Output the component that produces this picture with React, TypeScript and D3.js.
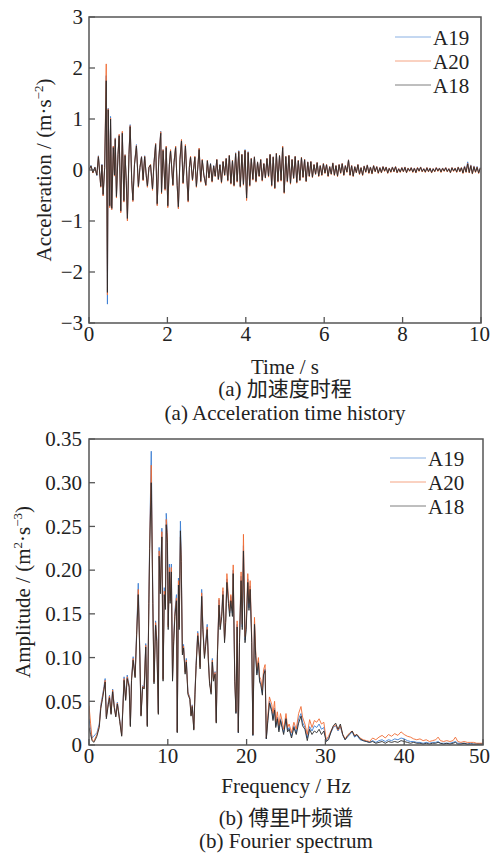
import React from 'react';
import * as d3 from 'd3';

// ---------- (a) Acceleration time history ----------
const accTimeEarly = [
  0.00,0.05,0.10,0.15,0.20,0.24,0.30,0.33,0.36,0.40,
  0.44,0.47,0.49,0.53,0.55,0.58,0.62,0.65,0.67,0.70,
  0.74,0.77,0.81,0.85,0.89,0.92,0.95,0.98,1.02,1.05,
  1.09,1.12,1.16,1.21,1.26,1.30,1.34,1.38,1.42,1.46,
  1.49,1.53,1.57,1.62,1.66,1.70,1.74,1.78,1.83,1.85,
  1.89,1.94,1.97,2.01,2.05,2.08,2.14,2.17,2.21,2.25,
  2.28,2.32,2.36,2.40,2.43,2.46,2.50,2.53,2.56,2.59,
  2.64,2.70,2.74,2.78,2.81,2.85,2.89,2.93,2.98,
];
// sampling grid of the later record (3.02 s .. 9.98 s, 0.04 s step)
const accTimeLate = d3.range(175).map((i) => 3.02 + i * 0.04);

const accA18 = [
  0.00,0.08,-0.05,0.05,-0.10,0.26,-0.32,0.10,-0.48,0.05,
  1.75,-2.40,1.18,-0.70,1.00,-0.75,0.44,-0.10,0.60,-0.52,
  0.30,0.67,-0.80,0.72,-0.60,0.28,-0.20,-0.95,0.30,0.85,
  -0.20,-0.59,0.10,0.47,-0.32,0.05,0.25,-0.19,0.26,-0.10,
  -0.31,0.05,0.10,-0.37,0.15,0.50,-0.66,0.20,0.72,-0.44,
  0.38,-0.37,0.44,-0.70,0.10,0.37,-0.29,0.15,0.44,-0.30,
  -0.72,0.20,0.57,-0.25,0.10,0.47,-0.20,-0.60,0.05,0.25,
  -0.19,0.25,-0.32,0.10,0.40,-0.22,0.19,-0.10,-0.29,
  0.18,-0.15,0.12,-0.22,0.08,-0.12,0.20,-0.18,0.10,-0.24,
  0.16,-0.10,0.22,-0.20,0.28,-0.26,0.18,-0.30,0.32,-0.22,
  0.36,-0.32,0.30,-0.28,0.38,-0.55,0.34,-0.30,0.22,-0.18,
  0.25,-0.22,0.15,-0.12,0.20,-0.20,0.12,-0.15,0.22,-0.12,
  0.30,-0.30,0.25,-0.35,0.32,-0.22,0.28,-0.20,0.44,-0.44,
  0.26,-0.22,0.28,-0.26,0.20,-0.16,0.26,-0.24,0.18,-0.20,
  0.24,-0.14,0.20,-0.22,0.15,-0.12,0.16,-0.14,0.10,-0.08,
  0.14,-0.12,0.08,-0.10,0.12,-0.06,0.10,-0.12,0.06,-0.08,
  0.13,-0.10,0.08,-0.12,0.10,-0.06,0.12,-0.10,0.08,-0.04,
  0.19,-0.10,0.08,-0.12,0.06,-0.05,0.10,-0.08,0.04,-0.10,
  0.07,-0.04,0.09,-0.06,0.05,-0.07,0.08,-0.03,0.06,-0.06,
  0.04,-0.05,0.06,-0.02,0.05,-0.06,0.03,-0.04,0.05,-0.03,
  0.06,-0.05,0.02,-0.04,0.04,-0.03,0.05,-0.05,0.03,-0.02,
  0.04,-0.04,0.03,-0.05,0.04,-0.02,0.05,-0.03,0.02,-0.04,
  0.04,-0.03,0.03,-0.05,0.02,-0.03,0.04,-0.02,0.03,-0.04,
  0.03,-0.02,0.04,-0.03,0.02,-0.05,0.04,-0.02,0.03,-0.04,
  0.05,-0.03,0.04,-0.06,0.06,-0.04,0.12,-0.05,0.08,-0.07,
  0.06,-0.04,0.05,-0.06,0.03,
];
const accA19 = [
  0.00,0.09,-0.05,0.06,-0.11,0.28,-0.33,0.11,-0.50,0.05,
  1.85,-2.63,1.21,-0.72,1.05,-0.77,0.46,-0.10,0.63,-0.53,
  0.31,0.69,-0.82,0.74,-0.62,0.30,-0.21,-0.97,0.31,0.89,
  -0.21,-0.61,0.11,0.50,-0.33,0.05,0.27,-0.20,0.28,-0.11,
  -0.33,0.05,0.10,-0.38,0.16,0.52,-0.69,0.21,0.76,-0.46,
  0.40,-0.39,0.46,-0.72,0.11,0.39,-0.30,0.16,0.46,-0.31,
  -0.75,0.21,0.59,-0.26,0.11,0.49,-0.21,-0.62,0.05,0.26,
  -0.20,0.26,-0.33,0.10,0.42,-0.23,0.20,-0.10,-0.30,
  0.19,-0.15,0.13,-0.23,0.09,-0.12,0.21,-0.19,0.11,-0.25,
  0.17,-0.10,0.23,-0.21,0.29,-0.27,0.19,-0.31,0.34,-0.23,
  0.38,-0.33,0.31,-0.29,0.40,-0.56,0.36,-0.31,0.23,-0.19,
  0.26,-0.23,0.16,-0.12,0.21,-0.21,0.13,-0.15,0.23,-0.13,
  0.31,-0.31,0.26,-0.36,0.33,-0.23,0.29,-0.21,0.46,-0.45,
  0.27,-0.23,0.29,-0.27,0.21,-0.16,0.27,-0.25,0.19,-0.20,
  0.25,-0.14,0.21,-0.22,0.16,-0.12,0.17,-0.14,0.11,-0.08,
  0.15,-0.11,0.09,-0.09,0.13,-0.05,0.11,-0.11,0.07,-0.07,
  0.14,-0.09,0.09,-0.11,0.11,-0.05,0.13,-0.09,0.09,-0.03,
  0.20,-0.09,0.09,-0.11,0.07,-0.04,0.11,-0.07,0.05,-0.09,
  0.08,-0.03,0.10,-0.05,0.06,-0.06,0.09,-0.02,0.07,-0.05,
  0.05,-0.04,0.07,-0.01,0.06,-0.05,0.04,-0.03,0.06,-0.02,
  0.07,-0.04,0.03,-0.03,0.05,-0.02,0.06,-0.04,0.04,-0.01,
  0.05,-0.03,0.04,-0.04,0.05,-0.01,0.06,-0.02,0.03,-0.03,
  0.05,-0.02,0.04,-0.04,0.03,-0.02,0.05,-0.01,0.04,-0.03,
  0.04,-0.01,0.05,-0.02,0.03,-0.04,0.05,-0.01,0.04,-0.03,
  0.06,-0.02,0.05,-0.05,0.08,-0.03,0.16,-0.04,0.10,-0.06,
  0.08,-0.03,0.07,-0.05,0.05,
];
const accA20 = [
  0.00,0.08,-0.06,0.05,-0.10,0.27,-0.34,0.10,-0.51,0.06,
  2.08,-2.45,1.20,-0.74,1.02,-0.78,0.47,-0.12,0.62,-0.55,
  0.32,0.70,-0.84,0.76,-0.63,0.30,-0.22,-1.00,0.32,0.87,
  -0.22,-0.62,0.12,0.48,-0.34,0.06,0.26,-0.21,0.27,-0.11,
  -0.34,0.06,0.11,-0.40,0.16,0.52,-0.70,0.22,0.75,-0.47,
  0.40,-0.40,0.47,-0.74,0.11,0.40,-0.31,0.16,0.47,-0.32,
  -0.76,0.22,0.60,-0.27,0.11,0.50,-0.22,-0.63,0.06,0.27,
  -0.21,0.27,-0.34,0.11,0.43,-0.24,0.21,-0.11,-0.31,
  0.19,-0.16,0.12,-0.24,0.08,-0.13,0.21,-0.19,0.10,-0.26,
  0.17,-0.11,0.23,-0.22,0.29,-0.28,0.19,-0.32,0.33,-0.24,
  0.37,-0.34,0.31,-0.30,0.39,-0.60,0.35,-0.32,0.23,-0.20,
  0.26,-0.24,0.16,-0.13,0.21,-0.22,0.13,-0.16,0.23,-0.14,
  0.31,-0.32,0.26,-0.37,0.33,-0.24,0.29,-0.22,0.47,-0.46,
  0.27,-0.24,0.29,-0.28,0.21,-0.17,0.27,-0.26,0.19,-0.21,
  0.25,-0.15,0.21,-0.23,0.16,-0.13,0.17,-0.15,0.11,-0.09,
  0.15,-0.13,0.09,-0.11,0.13,-0.07,0.11,-0.13,0.07,-0.09,
  0.14,-0.11,0.09,-0.13,0.11,-0.07,0.13,-0.11,0.09,-0.05,
  0.20,-0.11,0.09,-0.13,0.07,-0.06,0.11,-0.09,0.05,-0.11,
  0.08,-0.05,0.10,-0.07,0.06,-0.08,0.09,-0.04,0.07,-0.07,
  0.05,-0.06,0.07,-0.03,0.06,-0.07,0.04,-0.05,0.06,-0.04,
  0.07,-0.06,0.03,-0.05,0.05,-0.04,0.06,-0.06,0.04,-0.03,
  0.05,-0.05,0.04,-0.06,0.05,-0.03,0.06,-0.04,0.03,-0.05,
  0.05,-0.04,0.04,-0.06,0.03,-0.04,0.05,-0.03,0.04,-0.05,
  0.04,-0.03,0.05,-0.04,0.03,-0.06,0.05,-0.03,0.04,-0.05,
  0.06,-0.04,0.05,-0.07,0.07,-0.05,0.13,-0.06,0.09,-0.08,
  0.07,-0.05,0.06,-0.07,0.04,
];

// ---------- (b) Fourier spectrum ----------
const specFreq = [
  0.0,0.2,0.4,0.6,0.8,1.0,1.3,1.5,1.7,1.9,
  2.05,2.2,2.45,2.6,2.8,3.0,3.2,3.4,3.6,3.9,
  4.15,4.45,4.65,4.85,5.1,5.25,5.4,5.6,5.85,6.05,
  6.25,6.45,6.6,6.8,7.0,7.2,7.4,7.6,7.7,7.9,
  8.1,8.25,8.45,8.6,8.8,8.9,9.05,9.25,9.4,9.55,
  9.7,9.8,9.95,10.05,10.2,10.3,10.45,10.6,10.75,10.9,
  11.1,11.2,11.35,11.45,11.6,11.7,11.85,12.0,12.2,12.35,
  12.55,12.8,12.95,13.1,13.3,13.45,13.6,13.8,13.95,14.1,
  14.3,14.45,14.65,14.8,15.0,15.15,15.3,15.5,15.65,15.8,
  16.0,16.15,16.3,16.5,16.65,16.85,17.0,17.2,17.35,17.5,
  17.7,17.85,18.0,18.2,18.3,18.5,18.65,18.8,18.95,19.1,
  19.3,19.45,19.6,19.8,19.95,20.15,20.3,20.45,20.65,20.8,
  21.0,21.15,21.3,21.5,21.65,21.8,22.0,22.15,22.35,22.5,
  22.7,22.9,23.2,23.35,23.55,23.7,23.9,24.1,24.3,24.5,
  24.7,25.0,25.2,25.4,25.7,26.0,26.3,26.6,26.9,27.1,
  27.4,27.7,28.0,28.3,28.6,28.9,29.2,29.5,29.8,30.1,
  30.4,30.7,31.0,31.3,31.6,31.9,32.2,32.5,32.8,33.1,
  33.4,33.7,34.0,34.4,34.8,35.2,35.6,36.0,36.4,36.8,
  37.2,37.6,38.0,38.4,38.8,39.2,39.6,40.0,40.4,40.8,
  41.2,41.6,42.0,42.4,42.8,43.2,43.6,44.0,44.3,44.6,
  45.0,45.4,45.8,46.2,46.5,46.8,47.2,47.6,48.0,48.4,
  48.8,49.2,49.6,50.0,
];
const specA18 = [
  .020,.012,.005,.003,.006,.010,.020,.042,.052,.063,
  .072,.030,.046,.054,.035,.061,.043,.032,.047,.027,
  .010,.074,.051,.076,.066,.021,.074,.097,.077,.126,
  .172,.103,.033,.066,.064,.112,.021,.162,.225,.300,
  .162,.070,.137,.118,.035,.216,.173,.238,.073,.172,
  .155,.252,.232,.132,.198,.162,.198,.073,.118,.147,
  .165,.014,.183,.132,.245,.210,.103,.111,.081,.095,
  .058,.052,.033,.044,.017,.058,.091,.125,.111,.087,
  .170,.132,.099,.113,.132,.095,.070,.058,.095,.073,
  .081,.025,.103,.160,.132,.147,.172,.117,.140,.186,
  .162,.147,.165,.147,.196,.073,.036,.135,.014,.117,
  .188,.132,.222,.117,.132,.186,.154,.178,.117,.011,
  .138,.102,.080,.094,.072,.069,.057,.080,.085,.007,
  .028,.048,.038,.028,.040,.020,.030,.015,.028,.020,
  .012,.030,.015,.018,.008,.020,.012,.025,.033,.022,
  .018,.005,.018,.012,.016,.014,.018,.012,.016,.004,
  .006,.015,.022,.025,.018,.024,.012,.006,.010,.013,
  .016,.010,.012,.007,.005,.004,.003,.004,.002,.003,
  .004,.002,.004,.003,.004,.003,.005,.004,.003,.002,
  .003,.002,.002,.001,.002,.001,.002,.002,.003,.002,
  .001,.002,.001,.002,.003,.001,.001,.002,.001,.001,
  .001,.001,.001,.001,
];
const specA19 = [
  .030,.018,.008,.010,.012,.014,.024,.046,.056,.067,
  .076,.033,.049,.057,.037,.064,.045,.034,.049,.029,
  .012,.078,.053,.080,.068,.023,.077,.101,.079,.131,
  .185,.107,.035,.068,.066,.116,.023,.168,.236,.336,
  .168,.073,.142,.122,.037,.226,.179,.248,.076,.180,
  .160,.265,.243,.137,.207,.168,.207,.076,.122,.153,
  .172,.015,.191,.137,.256,.218,.107,.115,.084,.099,
  .061,.054,.035,.046,.019,.061,.095,.130,.115,.091,
  .178,.137,.103,.117,.138,.099,.073,.061,.099,.076,
  .084,.027,.107,.166,.137,.153,.176,.121,.145,.190,
  .166,.151,.170,.151,.200,.075,.037,.138,.014,.120,
  .193,.135,.228,.120,.135,.190,.157,.182,.120,.011,
  .141,.104,.082,.096,.074,.071,.059,.082,.087,.007,
  .030,.050,.040,.030,.042,.022,.032,.017,.030,.022,
  .014,.031,.017,.020,.010,.022,.014,.030,.036,.026,
  .020,.008,.021,.016,.022,.020,.024,.018,.020,.005,
  .008,.014,.020,.022,.016,.021,.011,.006,.009,.012,
  .015,.009,.011,.006,.005,.004,.003,.005,.003,.005,
  .006,.004,.006,.005,.007,.006,.008,.007,.005,.004,
  .004,.003,.003,.002,.003,.002,.003,.003,.004,.002,
  .002,.002,.002,.003,.004,.002,.002,.002,.001,.002,
  .001,.001,.001,.001,
];
const specA20 = [
  .045,.025,.006,.004,.008,.012,.022,.044,.054,.065,
  .074,.032,.048,.056,.036,.063,.044,.033,.048,.028,
  .011,.076,.052,.078,.067,.022,.076,.099,.078,.128,
  .178,.105,.034,.067,.065,.114,.022,.165,.230,.320,
  .165,.072,.140,.120,.036,.222,.176,.244,.075,.176,
  .158,.258,.238,.135,.203,.165,.203,.075,.120,.150,
  .168,.015,.188,.135,.238,.214,.105,.113,.083,.097,
  .060,.053,.034,.045,.018,.060,.093,.128,.113,.089,
  .174,.135,.101,.115,.135,.097,.072,.060,.097,.075,
  .083,.026,.105,.168,.135,.150,.180,.120,.143,.196,
  .168,.153,.172,.153,.206,.076,.038,.142,.015,.123,
  .198,.138,.241,.124,.138,.196,.162,.188,.124,.012,
  .146,.108,.086,.100,.078,.075,.063,.086,.092,.008,
  .034,.055,.046,.036,.050,.026,.038,.022,.036,.028,
  .018,.036,.020,.024,.014,.026,.018,.036,.044,.032,
  .024,.012,.029,.020,.028,.026,.030,.024,.026,.006,
  .010,.016,.021,.023,.017,.022,.012,.007,.011,.014,
  .016,.011,.012,.008,.006,.005,.004,.008,.006,.009,
  .011,.008,.012,.010,.013,.011,.015,.012,.010,.009,
  .007,.006,.007,.005,.006,.004,.005,.006,.009,.005,
  .004,.005,.004,.005,.009,.004,.003,.004,.003,.003,
  .003,.002,.002,.002,
];

const accXTicks = [0, 2, 4, 6, 8, 10];
const accYTicks = [-3, -2, -1, 0, 1, 2, 3];
const specXTicks = [0, 10, 20, 30, 40, 50];
const specYTicks = [0, 0.05, 0.1, 0.15, 0.2, 0.25, 0.3, 0.35];
const seriesNames = ['A19', 'A20', 'A18'];

const COLORS: Record<string, string> = { A19: '#3d7fd2', A20: '#ef6b33', A18: '#2b2b2b' };
const SERIF = "'Liberation Serif', 'Times New Roman', 'Noto Sans CJK SC', serif";
const AXIS = '#555';
const FS = 21;

const fmtAcc = (v: number) => (v < 0 ? '\u2212' + Math.abs(v) : String(v));
const fmtSpec = (v: number) => (v === 0 ? '0' : v.toFixed(2));

function Frame({ x, y, xt, yt, fx, fy, lx }: any) {
  const [x0, x1] = x.range();
  const [y0, y1] = y.range();
  return (
    <g>
      {xt.map((t: number, i: number) => {
        const last = i === xt.length - 1;
        return (
          <g key={'x' + t}>
            <line x1={x(t)} x2={x(t)} y1={y0} y2={y0 - 6} stroke={AXIS} strokeWidth={1.3} />
            <text
              x={last ? 490 : x(t)}
              y={y0 + 18}
              textAnchor={last ? 'end' : 'middle'}
              fontFamily={SERIF}
              fontSize={FS}
              fill="#222"
            >
              {fx(t)}
            </text>
          </g>
        );
      })}
      {yt.map((t: number) => (
        <g key={'y' + t}>
          <line x1={x0} x2={x0 + 6} y1={y(t)} y2={y(t)} stroke={AXIS} strokeWidth={1.3} />
          <text x={lx} y={y(t)} dy="0.35em" textAnchor="end" fontFamily={SERIF} fontSize={FS} fill="#222">
            {fy(t)}
          </text>
        </g>
      ))}
      <rect x={x0} y={y1} width={x1 - x0} height={y0 - y1} fill="none" stroke={AXIS} strokeWidth={1.5} />
    </g>
  );
}

function Legend({ x, y }: { x: number; y: number }) {
  return (
    <g>
      {seriesNames.map((n, i) => (
        <g key={n}>
          <line x1={x} x2={x + 36} y1={y + i * 24} y2={y + i * 24} stroke={COLORS[n]} strokeWidth={1} opacity={0.6} />
          <text x={x + 38} y={y + i * 24 + 8} fontFamily={SERIF} fontSize={FS} fill="#222">
            {n}
          </text>
        </g>
      ))}
    </g>
  );
}

export default function App() {
  const accTime = [...accTimeEarly, ...accTimeLate];
  const xA = d3.scaleLinear().domain([0, 10]).range([89, 481]);
  const yA = d3.scaleLinear().domain([-3, 3]).range([323, 17]);
  const xF = d3.scaleLinear().domain([0, 50]).range([89, 483]);
  const yF = d3.scaleLinear().domain([0, 0.35]).range([745, 439]);

  const accLine = d3.line<number>().x((_, i) => xA(accTime[i])).y((v) => yA(v));
  const specLine = d3.line<number>().x((_, i) => xF(specFreq[i])).y((v) => yF(v));

  const acc: Record<string, number[]> = { A19: accA19, A20: accA20, A18: accA18 };
  const spec: Record<string, number[]> = { A19: specA19, A20: specA20, A18: specA18 };

  const cxA = (89 + 481) / 2;
  const cxF = (89 + 483) / 2;

  return (
    <svg width={491} height={853} style={{ position: 'absolute', left: 0, top: 0, background: '#fff' }}>
      <defs>
        <clipPath id="clipA"><rect x={89} y={17} width={392} height={306} /></clipPath>
        <clipPath id="clipF"><rect x={89} y={439} width={394} height={306} /></clipPath>
      </defs>

      {/* panel (a) */}
      <g clipPath="url(#clipA)">
        {seriesNames.map((n) => (
          <path key={n} d={accLine(acc[n]) || ''} fill="none" stroke={COLORS[n]} strokeWidth={0.9} strokeLinejoin="round" />
        ))}
      </g>
      <Frame x={xA} y={yA} xt={accXTicks} yt={accYTicks} fx={(v: number) => String(v)} fy={fmtAcc} lx={83} />
      <Legend x={395} y={37} />
      <text transform={`translate(51, 170) rotate(-90)`} textAnchor="middle" fontFamily={SERIF} fontSize={FS} fill="#222">
        Acceleration / (m·s<tspan dy={-8} fontSize={13}>{'\u22122'}</tspan><tspan dy={8}>)</tspan>
      </text>
      <text x={cxA} y={374} textAnchor="middle" fontFamily={SERIF} fontSize={FS} fill="#222">Time / s</text>
      <text x={cxA} y={396} textAnchor="middle" fontFamily={SERIF} fontSize={FS} fill="#222">(a) 加速度时程</text>
      <text x={cxA} y={420} textAnchor="middle" fontFamily={SERIF} fontSize={FS} fill="#222">(a) Acceleration time history</text>

      {/* panel (b) */}
      <g clipPath="url(#clipF)">
        {seriesNames.map((n) => (
          <path key={n} d={specLine(spec[n]) || ''} fill="none" stroke={COLORS[n]} strokeWidth={0.9} strokeLinejoin="round" />
        ))}
      </g>
      <Frame x={xF} y={yF} xt={specXTicks} yt={specYTicks} fx={(v: number) => String(v)} fy={fmtSpec} lx={82} />
      <Legend x={390} y={458} />
      <text transform={`translate(30, 592) rotate(-90)`} textAnchor="middle" fontFamily={SERIF} fontSize={FS} fill="#222">
        Amplitude / (m<tspan dy={-8} fontSize={13}>2</tspan><tspan dy={8}>·s</tspan><tspan dy={-8} fontSize={13}>{'\u22123'}</tspan><tspan dy={8}>)</tspan>
      </text>
      <text x={cxF} y={793} textAnchor="middle" fontFamily={SERIF} fontSize={FS} fill="#222">Frequency / Hz</text>
      <text x={cxF} y={825} textAnchor="middle" fontFamily={SERIF} fontSize={FS} fill="#222">(b) 傅里叶频谱</text>
      <text x={cxF} y={848} textAnchor="middle" fontFamily={SERIF} fontSize={FS} fill="#222">(b) Fourier spectrum</text>
    </svg>
  );
}
